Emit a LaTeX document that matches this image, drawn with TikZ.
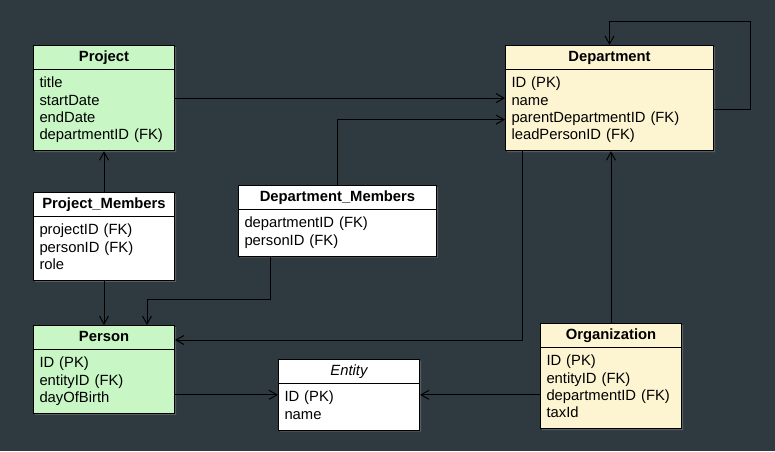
\documentclass[tikz,border=0pt]{standalone}
\usepackage{fontspec}
\setmainfont{Liberation Sans}
\usepackage{xcolor}
\usepackage{tikz}
\usetikzlibrary{shapes, arrows.meta, shadows, positioning, backgrounds}
\setlength{\parindent}{0pt}
\definecolor{board}{HTML}{2F3A40}
\definecolor{greenbox}{HTML}{C8F7C5}
\definecolor{yellowbox}{HTML}{FDF5D2}
\newcommand{\firstrow}{\rule{0pt}{14.4pt}}
\newcommand{\lastrow}{\rule[-7.6pt]{0pt}{0pt}}
\newcommand{\tabletitle}[1]{\hbox to\hsize{\hfil\strut#1\hfil}}

\begin{document}
\begin{tikzpicture}[x=1pt, y=-1pt, >={Straight Barb[length=8pt,width=9pt]},
    tablebox/.style={rectangle split, rectangle split parts=2, draw=black, line width=1pt,
      fill=#1, text width=129pt, inner xsep=6pt, inner ysep=3pt, anchor=north west,
      font=\fontsize{14.8}{17.3}\selectfont,
      drop shadow={shadow xshift=1.5pt, shadow yshift=-1.5pt, opacity=0.5}},
    tablebox/.default=white,
    link/.style={->, line width=1pt, black}]
        \fill[board] (0,0) rectangle (775,451);

        % tables
        \node[tablebox=greenbox]  (proj)   at (33,45)  {\tabletitle{\bfseries Project}
            \nodepart{two}\firstrow title\\ startDate\\ endDate\\ departmentID (FK)\lastrow};
        \node[tablebox]           (pm)     at (33,192) {\tabletitle{\bfseries Project\_Members}
            \nodepart{two}\firstrow projectID (FK)\\ personID (FK)\\ role\lastrow};
        \node[tablebox, text width=186pt] (dm) at (238,185) {\tabletitle{\bfseries Department\_Members}
            \nodepart{two}\firstrow departmentID (FK)\\ personID (FK)\lastrow};
        \node[tablebox=yellowbox, text width=196pt] (dept) at (505,45) {\tabletitle{\bfseries Department}
            \nodepart{two}\firstrow ID (PK)\\ name\\ parentDepartmentID (FK)\\ leadPersonID (FK)\lastrow};
        \node[tablebox=greenbox]  (person) at (33,325) {\tabletitle{\bfseries Person}
            \nodepart{two}\firstrow ID (PK)\\ entityID (FK)\\ dayOfBirth\lastrow};
        \node[tablebox]           (entity) at (278,359) {\tabletitle{\itshape Entity}
            \nodepart{two}\firstrow ID (PK)\\ name\lastrow};
        \node[tablebox=yellowbox] (org)    at (540,323) {\tabletitle{\bfseries Organization}
            \nodepart{two}\firstrow ID (PK)\\ entityID (FK)\\ departmentID (FK)\\ taxId\lastrow};

        % references
        \draw[link] (proj.east) -- (dept.west);
        \draw[link] (dm.north) |- ([yshift=-21.5pt]dept.west);
        \draw[link] ([yshift=-11pt]dept.east) -- ++(36,0) |- ([yshift=24pt]dept.north) -- (dept.north);
        \draw[link] (pm.north) -- (proj.south);
        \draw[link] (pm.south) -- (person.north);
        \draw[link] ([xshift=32pt]dm.south west) -- ++(0,43) -| ([xshift=114pt]person.north west);
        \draw[link] ([xshift=17pt]dept.south west) |- ([yshift=-15pt]person.north east);
        \draw[link] (person.east |- entity.west) -- (entity.west);
        \draw[link] (org.west |- entity.east) -- (entity.east);
        \draw[link] (org.north) -- (org.north |- dept.south);
\end{tikzpicture}
\end{document}
